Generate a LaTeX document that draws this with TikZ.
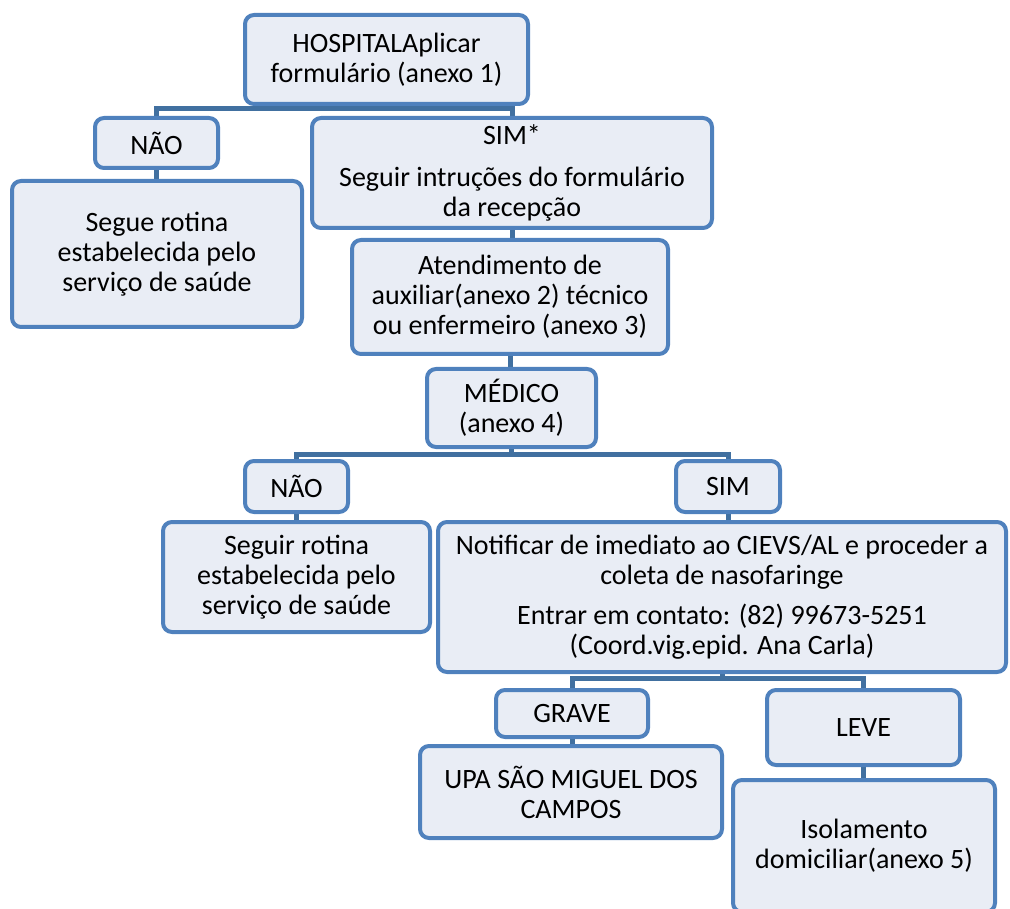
\documentclass[tikz,border=0pt]{standalone}
\usepackage{fontspec}
\setmainfont{Carlito}
\usetikzlibrary{backgrounds,calc}
\definecolor{boxline}{RGB}{79,129,189}
\definecolor{boxfill}{RGB}{233,237,245}
\definecolor{barcol}{RGB}{65,112,160}
\tikzset{
  box/.style={draw=boxline, fill=boxfill, line width=4pt, rounded corners=9pt,
    inner sep=0pt, align=center, font=\fontsize{28}{30}\selectfont},
  conn/.style={draw=barcol, line width=5pt},
}
\begin{document}
\begin{tikzpicture}[x=1pt,y=-1pt]
\useasboundingbox (0,0) rectangle (1010,909);
\clip (0,0) rectangle (1010,909);
\node[box, minimum width=283pt, minimum height=89pt] (top) at (386.5,59.5) {HOSPITALAplicar\\formulário (anexo 1)};
\node[box, minimum width=123pt, minimum height=50pt] (nao1) at (156.5,143) {NÃO};
\node[box, minimum width=400pt, minimum height=110pt] (sim1) at (512,173) {SIM*\\[12pt]Seguir intruções do formulário\\da recepção};
\node[box, minimum width=290pt, minimum height=146pt] (segue) at (157,254) {Segue rotina\\estabelecida pelo\\serviço de saúde};
\node[box, minimum width=316pt, minimum height=114pt] (atend) at (510,297) {Atendimento de\\auxiliar(anexo 2) técnico\\ou enfermeiro (anexo 3)};
\node[box, minimum width=169pt, minimum height=78pt] (medico) at (511.5,408) {MÉDICO\\(anexo 4)};
\node[box, minimum width=103pt, minimum height=51pt] (nao2) at (296.5,486.5) {NÃO};
\node[box, minimum width=104pt, minimum height=51pt] (sim2) at (728,486.5) {SIM};
\node[box, minimum width=267pt, minimum height=110pt] (seguir) at (296.5,577) {Seguir rotina\\estabelecida pelo\\serviço de saúde};
\node[box, minimum width=568pt, minimum height=150pt] (notif) at (722,597) {Notificar de imediato ao CIEVS/AL e proceder a\\coleta de nasofaringe\\[10pt]Entrar em contato: (82) 99673-5251\\(Coord.vig.epid. Ana Carla)};
\node[box, minimum width=152pt, minimum height=47pt] (grave) at (572,713.5) {GRAVE};
\node[box, minimum width=193pt, minimum height=75pt] (leve) at (863.5,727.5) {LEVE};
\node[box, minimum width=302pt, minimum height=92pt] (upa) at (571,792) {UPA SÃO MIGUEL DOS\\CAMPOS};
\node[box, minimum width=262pt, minimum height=132pt] (isol) at (864,846) {Isolamento\\domiciliar(anexo 5)};
\begin{scope}[on background layer]
  \draw[conn] (top.south) -- ++(0,3) -| (nao1.north);
  \draw[conn] (top.south) -- ++(0,3) -| (sim1.north);
  \draw[conn] (nao1.south) -- (nao1.south |- segue.north);
  \draw[conn] (sim1.south) -- (sim1.south |- atend.north);
  \draw[conn] (atend.south) -- (atend.south |- medico.north);
  \draw[conn] (medico.south) -- ++(0,5) -| (nao2.north);
  \draw[conn] (medico.south) -- ++(0,5) -| (sim2.north);
  \draw[conn] (nao2.south) -- (nao2.south |- seguir.north);
  \draw[conn] (sim2.south) -- (sim2.south |- notif.north);
  \draw[conn] (notif.south) -- ++(0,4) -| (grave.north);
  \draw[conn] (notif.south) -- ++(0,4) -| (leve.north);
  \draw[conn] (grave.south) -- (grave.south |- upa.north);
  \draw[conn] (leve.south) -- (leve.south |- isol.north);
\end{scope}
\end{tikzpicture}
\end{document}
